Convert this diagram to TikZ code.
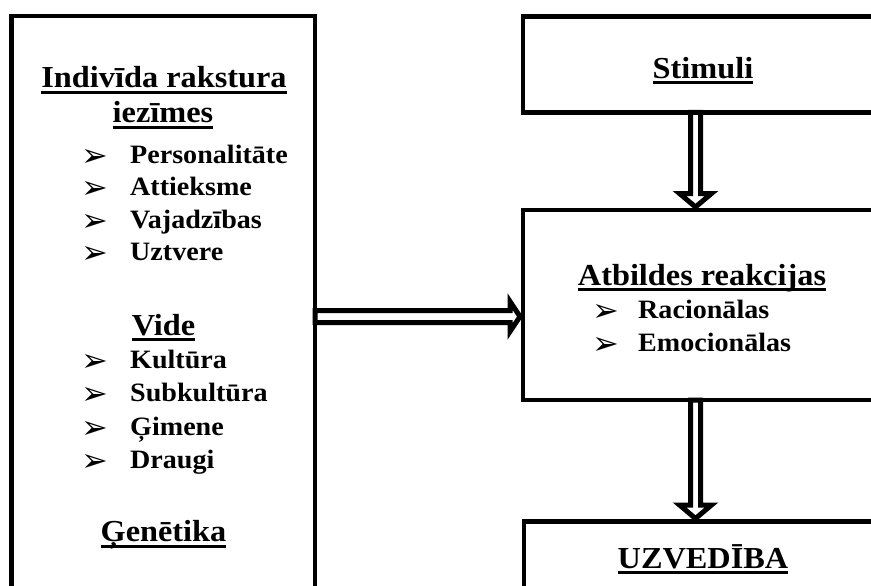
\documentclass[tikz,border=0pt]{standalone}
\usepackage{fontspec}
\setmainfont{Liberation Serif}[FakeStretch=1.06]
\newfontfamily\symfont{DejaVu Sans}
\usetikzlibrary{calc}
\newcommand\ulx[1]{\setbox0=\hbox{#1}\rlap{\rule[-6pt]{\wd0}{3pt}}\box0}
\newcommand\bul{{\symfont\fontsize{32}{32}\selectfont ➢}}
\begin{document}
\begin{tikzpicture}[x=1pt,y=-1pt,
  box/.style={draw, line width=4.5pt, inner sep=0pt, outer sep=0pt, rectangle},
  headtxt/.style={font=\fontsize{30.5}{30.5}\selectfont\bfseries, inner sep=0pt, anchor=base},
  itemtxt/.style={font=\fontsize{26.5}{26.5}\selectfont\bfseries, inner sep=0pt, anchor=base west},
  bulltxt/.style={inner sep=0pt, anchor=base west, yshift=-3pt},
  barrow/.style={draw, fill=white, line width=5pt, line join=miter}]
\fill[white] (0,0) rectangle (871,586);
\useasboundingbox (0,0) rectangle (871,586);
\clip (0,0) rectangle (871,586);
% boxes (positions only)
\path (163.25,318) node[box, draw=none, minimum width=303.5pt, minimum height=604pt] (L) {};
\path (703,64.5) node[box, draw=none, minimum width=360pt, minimum height=96pt] (S) {};
\path (703,305) node[box, draw=none, minimum width=360pt, minimum height=190pt] (R) {};
\path (703.5,570.75) node[box, draw=none, minimum width=359pt, minimum height=98.5pt] (U) {};
\coordinate (ax) at (695.5,0);
\coordinate (ay) at (0,316.5);
% block arrows
\draw[barrow] ($(S.south -| ax)+(-5,0)$) -- ($(R.north -| ax)+(-5,-16.5)$) -- ($(R.north -| ax)+(-16,-16.5)$)
  -- ($(R.north -| ax)+(0,-3)$) -- ($(R.north -| ax)+(16,-16.5)$) -- ($(R.north -| ax)+(5,-16.5)$)
  -- ($(S.south -| ax)+(5,0)$) -- cycle;
\draw[barrow] ($(R.south -| ax)+(-5,0)$) -- ($(U.north -| ax)+(-5,-16.5)$) -- ($(U.north -| ax)+(-16,-16.5)$)
  -- ($(U.north -| ax)+(0,-3)$) -- ($(U.north -| ax)+(16,-16.5)$) -- ($(U.north -| ax)+(5,-16.5)$)
  -- ($(R.south -| ax)+(5,0)$) -- cycle;
\draw[barrow] ($(L.east |- ay)+(0,-6)$) -- ($(R.west |- ay)+(-13,-6)$) -- ($(R.west |- ay)+(-13,-15)$)
  -- ($(R.west |- ay)+(-3,0)$) -- ($(R.west |- ay)+(-13,15)$) -- ($(R.west |- ay)+(-13,6)$)
  -- ($(L.east |- ay)+(0,6)$) -- cycle;
% boxes drawn on top
\draw[line width=4.5pt] (L.south west) |- (L.north east) -- (L.south east);
\draw[line width=4.5pt] (S.north east) -| (S.south west) -- (S.south east);
\draw[line width=4.5pt] (R.north east) -| (R.south west) -- (R.south east);
\draw[line width=4.5pt] (U.south west) |- (U.north east);
% left texts
\node[headtxt] (l1) at (164,88) {\ulx{Indivīda rakstura}};
\node[headtxt] (l2) at (163,123) {\ulx{iezīmes}};
\node[bulltxt] (b1) at (81,163) {\bul};
\node[itemtxt] (i1) at (130,163) {Personalitāte};
\node[bulltxt] (b2) at (81,195.5) {\bul};
\node[itemtxt] (i2) at (130,195.5) {Attieksme};
\node[bulltxt] (b3) at (81,228) {\bul};
\node[itemtxt] (i3) at (130,228) {Vajadzības};
\node[bulltxt] (b4) at (81,260.5) {\bul};
\node[itemtxt] (i4) at (130,260.5) {Uztvere};
\node[headtxt] (l3) at (163.5,335) {\ulx{Vide}};
\node[bulltxt] (b5) at (81,368.5) {\bul};
\node[itemtxt] (i5) at (130,368.5) {Kultūra};
\node[bulltxt] (b6) at (81,401.5) {\bul};
\node[itemtxt] (i6) at (130,401.5) {Subkultūra};
\node[bulltxt] (b7) at (81,435) {\bul};
\node[itemtxt] (i7) at (130,435) {Ģimene};
\node[bulltxt] (b8) at (81,468) {\bul};
\node[itemtxt] (i8) at (130,468) {Draugi};
\node[headtxt] (l4) at (163.5,541.5) {\ulx{Ģenētika}};
% right texts
\node[headtxt] (r1) at (703,78) {\ulx{Stimuli}};
\node[headtxt] (r2) at (702,285) {\ulx{Atbildes reakcijas}};
\node[bulltxt] (b9) at (592,318.5) {\bul};
\node[itemtxt] (i9) at (638,318.5) {Racionālas};
\node[bulltxt] (b10) at (592,351.5) {\bul};
\node[itemtxt] (i10) at (638,351.5) {Emocionālas};
\node[headtxt] (r3) at (703,568) {\ulx{UZVEDĪBA}};
\end{tikzpicture}
\end{document}
